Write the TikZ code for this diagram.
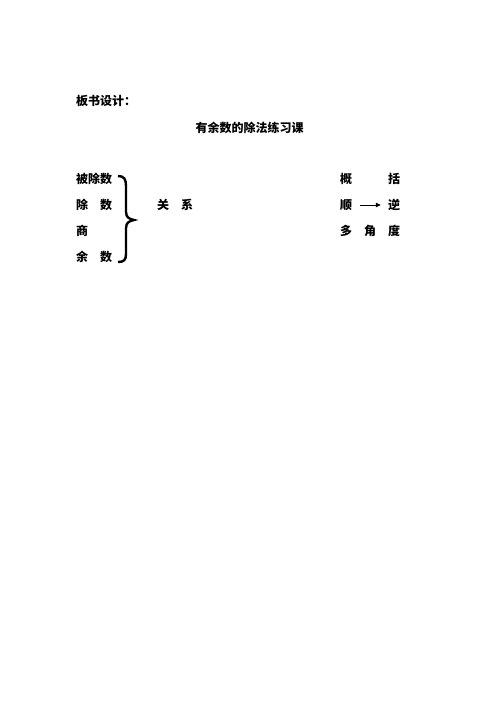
\documentclass[tikz,border=0pt]{standalone}
\usepackage{fontspec}
\newfontfamily\cjk{Noto Sans CJK SC}
\usetikzlibrary{arrows.meta}
\begin{document}
\begin{tikzpicture}[x=1pt,y=-1pt,
  txt/.style={inner sep=0pt,font=\cjk\bfseries\fontsize{12}{14}\selectfont},
  lefttxt/.style={txt,anchor=west}]
\useasboundingbox (0,0) rectangle (500,706);
\node[lefttxt] (head) at (76,101) {板书设计：};
\node[txt] (title) at (249.5,128) {有余数的除法练习课};
\node[lefttxt] (r1) at (76,179) {被除数};
\node[lefttxt] (r2) at (76,205) {除　数};
\node[lefttxt] (r3) at (76,231) {商};
\node[lefttxt] (r4) at (76,257) {余　数};
\draw[line width=2.4pt] (118,176) .. controls (124,176) and (126,179) .. (126,186) -- (126,212) .. controls (126,218) and (130,219) .. (134,220) .. controls (130,221) and (126,222) .. (126,228) -- (126,254) .. controls (126,260) and (124,262) .. (118,262);
\node[lefttxt] (rel) at (157,205) {关　系};
\node[txt] (gai) at (346,179) {概};
\node[txt] (kuo) at (394,179) {括};
\node[txt] (shun) at (346,205) {顺};
\node[txt] (ni) at (394,205) {逆};
\node[txt] (duo) at (346,231) {多};
\node[txt] (jiao) at (370,231) {角};
\node[txt] (du) at (394,231) {度};
\draw[line width=0.8pt,-{Triangle[length=5pt,width=4.5pt]}] ([xshift=8pt]shun.east) -- ([xshift=-7pt]ni.west);
\end{tikzpicture}
\end{document}
